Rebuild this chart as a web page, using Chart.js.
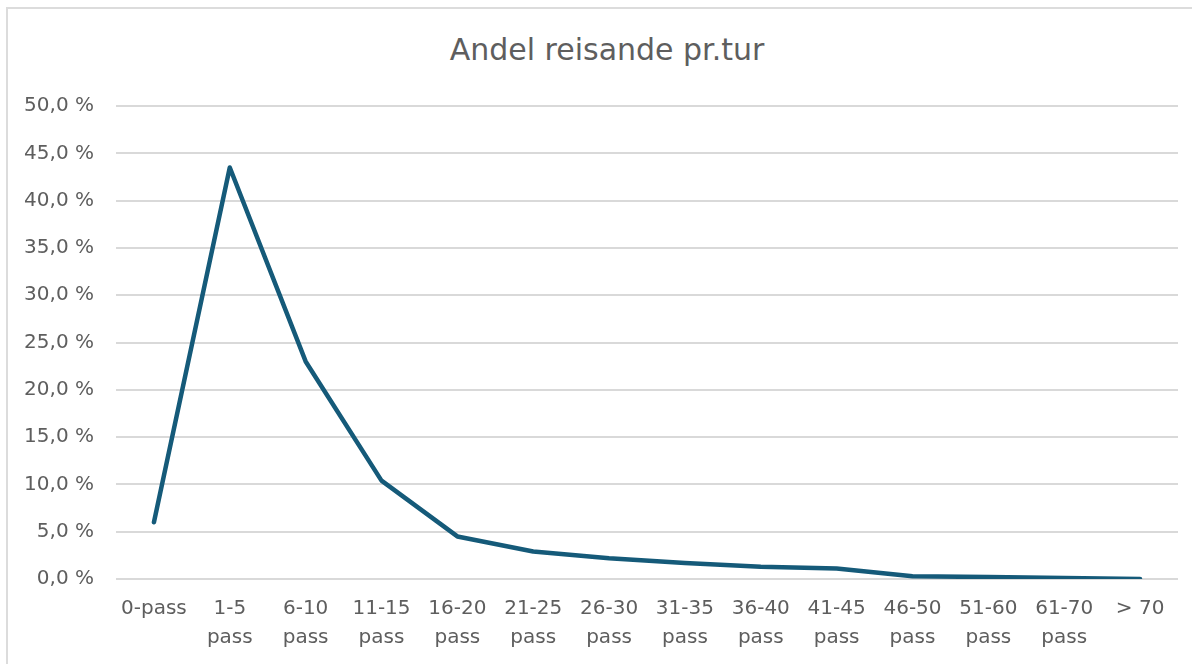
<!DOCTYPE html>
<html>
<head>
<meta charset="utf-8">
<script src="https://cdn.jsdelivr.net/npm/chart.js@4"></script>
<style>
    html, body { margin: 0; padding: 0; background: #fff; }
    #wrap { position: relative; width: 1192px; height: 664px; overflow: hidden; }
    #frame { position: absolute; left: 6px; top: 7px; width: 1300px; height: 800px;
             border-top: 2px solid #dcdcdc; border-left: 2px solid #dcdcdc; }
    #title { position: absolute; left: 0; top: 32px; width: 1214px; height: 36px; line-height: 36px;
             text-align: center; font: 30px "DejaVu Sans", "Open Sans", sans-serif; color: #5e5e5e; }
    canvas { position: absolute; left: 0; top: 0; }
</style>
</head>
<body>
<div id="wrap">
    <div id="frame"></div>
    <div id="title">Andel reisande pr.tur</div>
    <canvas id="chart" width="1192" height="664"></canvas>
</div>
<script>
// Andel reisande pr. tur
const categories = [
    '0-pass', ['1-5', 'pass'], ['6-10', 'pass'], ['11-15', 'pass'], ['16-20', 'pass'],
    ['21-25', 'pass'], ['26-30', 'pass'], ['31-35', 'pass'], ['36-40', 'pass'],
    ['41-45', 'pass'], ['46-50', 'pass'], ['51-60', 'pass'], ['61-70', 'pass'], '> 70'
];
const shares = [6.0, 43.5, 23.0, 10.4, 4.5, 2.9, 2.2, 1.7, 1.3, 1.1, 0.3, 0.2, 0.1, 0.0];
const yTicks = [0, 5, 10, 15, 20, 25, 30, 35, 40, 45, 50];

const textColor = '#5e5e5e';
const fontFamily = '"DejaVu Sans", "Open Sans", sans-serif';

const ctx = document.getElementById('chart').getContext('2d');

new Chart(ctx, {
    type: 'line',
    data: {
        labels: categories,
        datasets: [{
            label: 'Andel',
            data: shares,
            borderColor: '#155a79',
            borderWidth: 4.5,
            borderCapStyle: 'round',
            borderJoinStyle: 'round',
            pointRadius: 0,
            tension: 0,
            fill: false
        }]
    },
    options: {
        responsive: false,
        animation: false,
        // title is the html div above, so leave room for it
        layout: { padding: { left: 0, right: 14, top: 106, bottom: 0 } },
        plugins: {
            legend: { display: false },
            tooltip: { enabled: false },
            title: { display: false }
        },
        scales: {
            x: {
                offset: true,
                grid: { display: false, drawTicks: false },
                border: { display: false },
                ticks: {
                    color: textColor,
                    font: { family: fontFamily, size: 20, lineHeight: 1.45 },
                    padding: 15,
                    maxRotation: 0,
                    autoSkip: false
                },
                afterFit: scale => { scale.height = 85; }
            },
            y: {
                min: 0,
                max: 50,
                afterBuildTicks: scale => { scale.ticks = yTicks.map(v => ({ value: v })); },
                grid: { color: '#d9d9d9', lineWidth: 2, drawTicks: false },
                border: { display: false },
                ticks: {
                    color: textColor,
                    font: { family: fontFamily, size: 20 },
                    padding: 22,
                    callback: v => v.toFixed(1).replace('.', ',') + ' %'
                },
                afterFit: scale => { scale.width = 116; }
            }
        }
    }
});
</script>
</body>
</html>
